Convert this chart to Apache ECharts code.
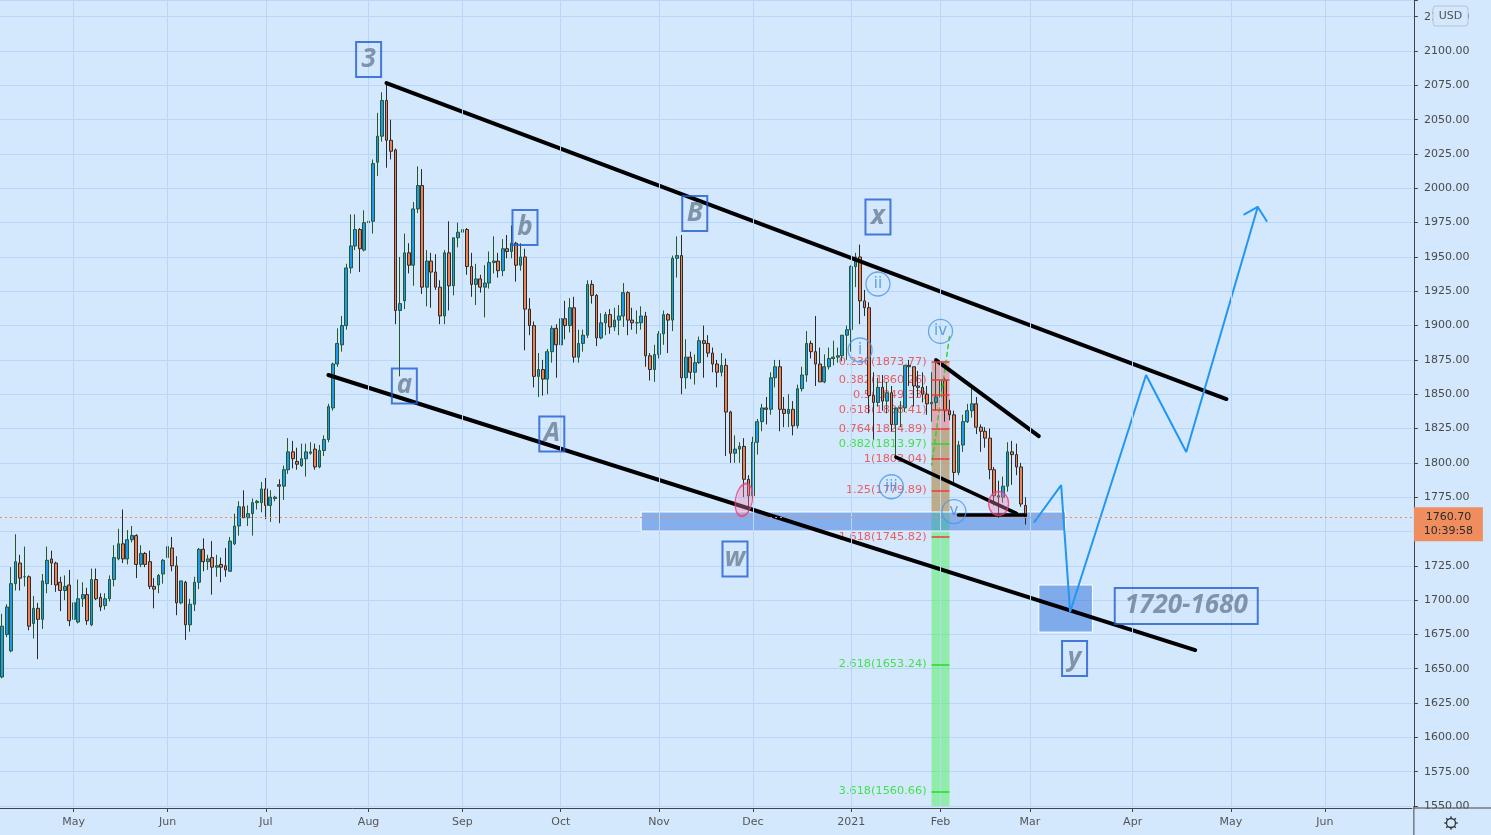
<!DOCTYPE html>
<html><head><meta charset="utf-8">
<script src="https://cdn.jsdelivr.net/npm/echarts@6/dist/echarts.min.js"></script>
<style>html,body{margin:0;padding:0;background:#d3e8fd;overflow:hidden}#c{width:1491px;height:835px}</style>
</head><body><div id="c"></div>
<script>
// ---------- calendar (trading-day categories) ----------
const firstCategory = '2020-04-09';
const lastCategory  = '2021-06-28';
const holidays = ['2020-12-25', '2021-01-01'];
const firstBarDate = '2020-04-09';
const monthNames = ['2021','Feb','Mar','Apr','May','Jun','Jul','Aug','Sep','Oct','Nov','Dec'];

// ---------- daily bars XAUUSD  [open, high, low, close] ----------
const bars = [
[1644,1690,1643,1681],[1675,1697,1673,1695],[1663,1724,1662,1712],[1712,1748,1707,1728],[1727,1733,1707,1716],
[1717,1739,1710,1717],[1717,1718,1678,1681],[1683,1703,1672,1694],[1694,1698,1657,1686],[1686,1719,1679,1714],
[1712,1739,1705,1729],[1730,1736,1711,1727],[1727,1728,1706,1711],[1713,1717,1692,1707],[1707,1718,1700,1710],
[1711,1722,1681,1685],
[1686,1706,1670,1698],[1684,1715,1683,1701],[1701,1713,1695,1704],[1704,1709,1682,1685],[1682,1723,1681,1715],
[1715,1723,1700,1701],[1702,1705,1692,1695],[1696,1705,1693,1701],[1701,1718,1699,1715],[1715,1740,1710,1731],
[1730,1752,1729,1741],[1741,1766,1727,1730],[1730,1751,1726,1744],[1744,1754,1742,1747],[1747,1748,1716,1726],
[1726,1740,1724,1734],[1734,1735,1724,1726],[1728,1736,1708,1710],[1710,1716,1694,1708],[1711,1719,1705,1718],
[1719,1730,1712,1729],
[1731,1745,1728,1739],[1738,1746,1721,1725],[1725,1732,1689,1698],[1698,1714,1697,1714],[1713,1714,1671,1682],
[1682,1701,1677,1697],[1697,1717,1692,1713],[1713,1738,1708,1737],[1737,1745,1721,1728],[1728,1733,1722,1730],
[1731,1743,1704,1724],[1724,1733,1717,1725],[1726,1731,1713,1724],[1725,1738,1717,1722],[1721,1746,1721,1743],
[1741,1763,1740,1754],[1754,1772,1747,1768],[1768,1780,1760,1760],[1760,1769,1754,1763],[1763,1774,1747,1771],
[1771,1773,1766,1772],[1771,1786,1764,1781],
[1781,1789,1759,1769],[1769,1780,1757,1775],[1774,1776,1772,1775],[1784,1788,1756,1783],[1783,1798,1773,1795],
[1795,1818,1792,1808],[1808,1816,1796,1803],[1801,1811,1795,1799],[1798,1814,1797,1803],[1803,1814,1790,1808],
[1807,1815,1806,1808],[1810,1814,1795,1797],[1797,1813,1796,1809],[1809,1820,1805,1817],[1817,1843,1815,1841],
[1840,1873,1838,1872],[1872,1898,1870,1887],[1886,1907,1881,1900],[1900,1945,1897,1942],[1942,1981,1938,1958],
[1958,1981,1955,1970],[1970,1971,1939,1956],[1955,1984,1954,1975],
[1975,1988,1967,1976],[1976,2021,1967,2018],[2019,2055,2009,2038],[2038,2070,2034,2064],[2064,2076,2015,2035],
[2035,2050,2021,2027],[2028,2029,1901,1911],[1911,1950,1863,1916],[1918,1967,1912,1953],[1953,1960,1938,1944],
[1944,1990,1929,1985],[1985,2016,1982,2002],[2002,2014,1923,1928],[1928,1955,1914,1947],[1947,1953,1913,1939],
[1939,1952,1926,1928],[1928,1933,1901,1907],[1907,1955,1901,1953],[1953,1976,1911,1929],[1929,1964,1922,1964],
[1964,1975,1957,1968],
[1968,1992,1960,1970],[1970,1971,1937,1943],[1943,1953,1921,1930],[1930,1945,1915,1934],[1934,1937,1924,1928],
[1928,1944,1906,1931],[1931,1954,1927,1946],[1946,1965,1938,1947],[1947,1953,1935,1940],[1940,1963,1936,1956],
[1956,1966,1949,1954],[1954,1973,1949,1960],[1960,1961,1932,1944],[1944,1960,1940,1950],[1950,1956,1882,1912],
[1912,1920,1893,1900],[1900,1903,1855,1863],[1863,1880,1848,1868],[1868,1875,1849,1861],[1861,1883,1850,1881],
[1881,1900,1873,1898],[1898,1901,1862,1886],
[1886,1917,1883,1905],[1905,1918,1890,1900],[1900,1920,1895,1913],[1913,1921,1873,1877],[1877,1897,1873,1887],
[1887,1897,1881,1893],[1893,1933,1891,1930],[1930,1933,1916,1922],[1922,1923,1885,1891],[1891,1909,1890,1902],
[1902,1910,1893,1908],[1908,1912,1894,1899],[1899,1913,1896,1904],[1904,1915,1893,1907],[1907,1931,1899,1924],
[1924,1925,1893,1904],[1904,1913,1897,1902],[1902,1911,1894,1902],[1902,1914,1897,1907],[1907,1910,1870,1878],
[1878,1880,1860,1868],[1868,1886,1859,1879],
[1879,1896,1876,1894],[1894,1911,1886,1908],[1908,1909,1880,1904],[1904,1951,1896,1949],[1949,1965,1935,1951],
[1951,1966,1850,1862],[1862,1890,1854,1877],[1877,1881,1861,1866],[1866,1879,1857,1873],[1873,1892,1872,1889],
[1889,1900,1862,1887],[1887,1893,1877,1880],[1880,1884,1866,1872],[1872,1875,1855,1866],[1866,1880,1863,1871],
[1871,1876,1805,1837],[1837,1838,1800,1807],[1807,1820,1800,1810],[1810,1815,1800,1812],[1812,1818,1775,1788],
[1788,1791,1764,1776],
[1776,1819,1774,1815],[1815,1832,1806,1830],[1830,1843,1823,1840],[1840,1848,1828,1839],[1839,1866,1835,1862],
[1862,1875,1855,1870],[1870,1875,1823,1839],[1839,1848,1826,1836],[1836,1850,1826,1839],[1839,1845,1820,1827],
[1827,1857,1825,1854],[1854,1870,1852,1864],[1864,1896,1859,1887],[1887,1889,1876,1881],[1881,1907,1856,1872],
[1872,1884,1859,1859],[1859,1879,1858,1870],[1870,1884,1868,1876],[1876,1889,1871,1877],[1877,1884,1873,1878],
[1878,1893,1874,1893],[1893,1900,1875,1897],
[1897,1944,1881,1943],[1943,1953,1928,1950],[1950,1959,1901,1918],[1918,1926,1907,1913],[1913,1917,1836,1849],
[1849,1866,1817,1844],[1844,1862,1841,1855],[1855,1864,1838,1845],[1845,1859,1836,1851],[1851,1856,1823,1828],
[1828,1839,1803,1840],[1840,1845,1826,1840],[1840,1871,1837,1871],[1871,1875,1856,1870],[1870,1870,1841,1856],
[1856,1867,1848,1855],[1855,1866,1844,1850],[1850,1856,1835,1843],[1843,1866,1830,1844],[1844,1875,1838,1848],
[1848,1875,1848,1860],[1860,1862,1830,1838],[1838,1846,1831,1835],[1835,1838,1785,1793],[1793,1816,1791,1813],
[1813,1835,1808,1830],[1830,1843,1829,1838],[1838,1855,1833,1843],[1843,1848,1821,1826],[1826,1828,1808,1823],
[1823,1826,1811,1818],[1818,1825,1788,1795],[1795,1797,1769,1776],[1776,1787,1760,1775],[1775,1790,1771,1783],
[1783,1815,1779,1808],[1808,1816,1784,1806],[1806,1814,1791,1797],[1797,1800,1768,1770],[1769,1775,1755,1760.7]
];
const lastPrice = 1760.7;
const countdown = '10:39:58';

// ---------- price axis ----------
const priceMin = 1550, priceMax = 2137.2, priceStep = 25;

// ---------- drawings (anchors in date / price) ----------
const channelTop    = [['2020-08-07', 2076.7], ['2021-04-30', 1846.5]];
const channelBottom = [['2020-07-21', 1864.0], ['2021-04-21', 1663.6]];
const wedgeTop      = [['2021-01-29', 1874.9], ['2021-03-03', 1819.5]];
const wedgeBottom   = [['2021-01-18', 1804.2], ['2021-02-24', 1763.2]];
const waveVLevel    = [['2021-02-05', 1762.0], ['2021-02-26', 1762.0]];
const projection    = [['2021-03-02',1756.9],['2021-03-10',1783.8],['2021-03-12',1691.3],['2021-04-06',1864.0],['2021-04-19',1807.9],['2021-05-11',1986.4]];
const arrowHead     = [['2021-05-06',1981.0],['2021-05-11',1986.4],['2021-05-13',1976.2]];
const fibTrend      = [['2021-02-03',1892.0],['2021-01-28',1798.4]];

const waveBoxes = [['3','2020-08-03',2093.8],['a','2020-08-13',1856.0],['b','2020-09-21',1971.4],['A','2020-09-29',1821.0],
                   ['B','2020-11-12',1981.6],['x','2021-01-12',1979.1],['w','2020-11-25',1729.9],['y','2021-03-15',1657.4]];
const targetLabel = ['1720-1680','2021-04-19',1695.7];
const waveCircles = [['ii','2021-01-12',1930.3],['i','2021-01-06',1882.2],['iv','2021-02-01',1895.8],['iii','2021-01-15',1782.6],['v','2021-02-04',1764.5]];
const ellipses = [['2020-11-27',1773.0],['2021-02-18',1770.4]];

const supportZone = ['2020-10-27','2021-03-11',1764.2,1750.3];
const targetZone  = ['2021-03-03','2021-03-19',1711.0,1676.7];
const fibSpan = ['2021-01-28','2021-02-03'];
const fibRedZone = [1873.77, 1764.2];
const fibGreenZone = [1824.89, 1550];
const fibLevels = [[0.236,1873.77],[0.382,1860.26],[0.5,1849.33],[0.618,1838.41],[0.764,1824.89],[0.882,1813.97],
                   [1,1803.04],[1.25,1779.89],[1.618,1745.82],[2.618,1653.24],[3.618,1560.66]];
const fibGreenRatios = [0.882, 2.618, 3.618];

// ---------- build categories ----------
function tradingDays(a, b, skip) {
  const out = []; let t = Date.parse(a + 'T00:00:00Z'); const end = Date.parse(b + 'T00:00:00Z');
  while (t <= end) { const d = new Date(t); const wd = d.getUTCDay(); const s = d.toISOString().slice(0,10);
    if (wd !== 0 && wd !== 6 && skip.indexOf(s) < 0) out.push(s); t += 86400000; }
  return out;
}
const cats = tradingDays(firstCategory, lastCategory, holidays);
const monthStart = cats.map((d, i) => i > 0 && d.slice(5,7) !== cats[i-1].slice(5,7));
const monthStartDates = cats.filter((d, i) => monthStart[i]);
const firstIdx = cats.indexOf(firstBarDate);
const candleData = cats.map((d, j) => { const i = j - firstIdx; if (i >= 0 && i < bars.length) { const b = bars[i]; return [b[0], b[3], b[2], b[1]]; } return '-'; });

// ---------- layout / style ----------
const BG = '#d3e8fd', GRIDC = '#b7d6f8';
const BAR = 4.468;
const GRID_W = cats.length * BAR;
const PLOT_H = 806;
const FONT = 'DejaVu Sans';
const ellipsePath = 'path://M0,50a50,50 0 1,0 100,0a50,50 0 1,0 -100,0';
const ellipseSizes = [[17,33],[20,24]];
const ellipseRot = [-10, 0];
const boxLabel = (w, h) => ({show:true, position:'inside', formatter:'{b}', color:'#6b7e93', fontSize:26, fontWeight:'bold',
  fontStyle:'italic', fontFamily:'Open Sans', width:w, height:h, lineHeight:h, align:'center', verticalAlign:'middle',
  borderColor:'#1f5bd1', borderWidth:2, padding:0});

function lineSeries(data, color, width, z, type) {
  return { type:'line', data, symbol:'none', silent:true, z, lineStyle:{color, width, type: type || 'solid', cap:'round'}, animation:false };
}

const chart = echarts.init(document.getElementById('c'), null, {width:1491, height:835});
chart.setOption({
  animation:false,
  backgroundColor: BG,
  grid: {left: 0, top: 0, width: GRID_W, height: PLOT_H},
  xAxis: {
    type:'category', data: cats, boundaryGap:true, offset:2,
    axisLine:{show:true, lineStyle:{color:'#444', width:1}},
    axisTick:{show:true, alignWithLabel:true, interval:(i)=>monthStart[i], length:4, lineStyle:{color:'#444'}},
    axisLabel:{interval:(i)=>monthStart[i], formatter:(v)=>monthNames[parseInt(v.slice(5,7),10)-1], color:'#555', fontSize:11, fontFamily:FONT, margin:9},
    splitLine:{show:false}
  },
  yAxis: {
    type:'value', position:'right', min:priceMin, max:priceMax, interval:priceStep, offset:2,
    axisLine:{show:true, lineStyle:{color:'#444', width:1}},
    axisTick:{show:true, length:4, lineStyle:{color:'#444'}},
    axisLabel:{color:'#4a4a4a', fontSize:11, fontFamily:FONT, margin:10,
      formatter:(v)=> Math.abs(v/priceStep - Math.round(v/priceStep)) < 1e-6 ? v.toFixed(2) : ''},
    splitLine:{show:true, lineStyle:{color:GRIDC, width:1}}
  },
  series: [
    { type:'line', data:[], silent:true, z:0,
      markLine:{silent:true, symbol:['none','none'], label:{show:false}, lineStyle:{color:GRIDC, width:1, type:'solid'},
        data: monthStartDates.map(d => ({xAxis:d}))} },
    { type:'line', data:[], silent:true, z:1,
      markArea:{silent:true, label:{show:false}, data:[
        [{xAxis:fibSpan[0], yAxis:fibGreenZone[0], itemStyle:{color:'rgba(90,240,100,0.55)'}}, {xAxis:fibSpan[1], yAxis:fibGreenZone[1]}],
        [{xAxis:fibSpan[0], yAxis:fibRedZone[0], itemStyle:{color:'rgba(235,105,110,0.5)'}}, {xAxis:fibSpan[1], yAxis:fibRedZone[1]}],
        [{xAxis:supportZone[0], yAxis:supportZone[2], itemStyle:{color:'rgba(60,120,220,0.52)', borderColor:'#ffffff', borderWidth:1}}, {xAxis:supportZone[1], yAxis:supportZone[3]}],
        [{xAxis:targetZone[0], yAxis:targetZone[2], itemStyle:{color:'rgba(60,120,220,0.55)', borderColor:'#ffffff', borderWidth:1}}, {xAxis:targetZone[1], yAxis:targetZone[3]}]
      ]},
      markLine:{silent:true, symbol:['none','none'], label:{show:false},
        data: fibLevels.map(f => [{coord:[fibSpan[0], f[1]], lineStyle:{color: fibGreenRatios.indexOf(f[0])>=0 ? '#22dd22' : '#f03a3a', width:1.5, type:'solid'}}, {coord:[fibSpan[1], f[1]]}])} },
    { type:'scatter', silent:true, z:2, symbolSize:0,
      data: fibLevels.map(f => ({name: f[0] + '(' + f[1].toFixed(2) + ')', value:[fibSpan[0], f[1]],
        label:{color: fibGreenRatios.indexOf(f[0])>=0 ? '#22dd22' : '#f03a3a'}})),
      label:{show:true, position:'left', distance:5, formatter:'{b}', fontSize:11.3, fontFamily:FONT} },
    { type:'line', data:[], silent:true, z:2,
      markLine:{silent:true, symbol:['none','none'], label:{show:false}, lineStyle:{color:'#f08d5f', width:1, type:[2,3]},
        data:[{yAxis:lastPrice}]} },
    { type:'candlestick', data: candleData, barWidth:3.2, silent:true, z:3,
      itemStyle:{color:'#2196f3', color0:'#f08050', borderColor:'#24592b', borderColor0:'#2b2b2b', borderWidth:1} },
    lineSeries(fibTrend, '#35d035', 1.5, 4, [4,4]),
    lineSeries(channelTop, '#000', 4, 4),
    lineSeries(channelBottom, '#000', 4, 4),
    lineSeries(wedgeTop, '#000', 4, 4),
    lineSeries(wedgeBottom, '#000', 3.5, 4),
    lineSeries(waveVLevel, '#000', 3.5, 4),
    lineSeries(projection, '#2196f3', 2, 4),
    lineSeries(arrowHead, '#2196f3', 2, 4),
    { type:'scatter', silent:true, z:4, symbol: ellipsePath, symbolKeepAspect:false,
      data: ellipses.map((e, i) => ({value:[e[0], e[1]], symbolSize: ellipseSizes[i], symbolRotate: ellipseRot[i]})),
      itemStyle:{color:'rgba(240,130,180,0.45)', borderColor:'#e8407a', borderWidth:1.5} },
    { type:'scatter', silent:true, z:5, symbol:'circle', symbolSize:24,
      data: waveCircles.map(c => ({name:c[0], value:[c[1], c[2]]})),
      itemStyle:{color:'rgba(255,255,255,0.05)', borderColor:'#4b96e3', borderWidth:1.3},
      label:{show:true, position:'inside', formatter:'{b}', color:'#3b8ee0', fontSize:15, fontFamily:FONT} },
    { type:'scatter', silent:true, z:5, symbolSize:0,
      data: waveBoxes.map(b => ({name:b[0], value:[b[1], b[2]]})),
      label: boxLabel(25, 35) },
    { type:'scatter', silent:true, z:5, symbolSize:0,
      data: [{name:targetLabel[0], value:[targetLabel[1], targetLabel[2]]}],
      label: boxLabel(143, 36) }
  ]
});

// ---------- chrome: price tag, USD badge, frame extensions, gear ----------
const py = chart.convertToPixel({yAxisIndex:0}, lastPrice);
const axisX = chart.convertToPixel({xAxisIndex:0}, cats[cats.length-1]) + BAR/2 + 2;
const axisY = PLOT_H + 2;
const gear = [{type:'circle', shape:{cx:1451, cy:823, r:4.5}, style:{fill:'none', stroke:'#333', lineWidth:1.3}, z:101}];
for (let a = 0; a < 8; a++) {
  const ang = a * Math.PI / 4, c = Math.cos(ang), s = Math.sin(ang);
  gear.push({type:'line', shape:{x1:1451+c*4.5, y1:823+s*4.5, x2:1451+c*6.8, y2:823+s*6.8}, style:{stroke:'#333', lineWidth:1.3}, z:101});
}
chart.setOption({graphic:[
  {type:'rect', shape:{x:axisX+0.5, y:axisY+0.5, width:1491-axisX, height:835-axisY}, style:{fill:BG}, z:100},
  {type:'line', shape:{x1:axisX, y1:axisY, x2:1491, y2:axisY}, style:{stroke:'#444', lineWidth:1}, z:101},
  {type:'line', shape:{x1:axisX, y1:PLOT_H, x2:axisX, y2:835}, style:{stroke:'#444', lineWidth:1}, z:101},
  {type:'rect', shape:{x:axisX, y:py-9.5, width:69, height:34}, style:{fill:'#f08d5f'}, z:102},
  {type:'text', x:axisX+34.5, y:py+0.7, style:{text:lastPrice.toFixed(2), fill:'#2a2a2a', font:'11px "DejaVu Sans"', align:'center', verticalAlign:'middle'}, z:103},
  {type:'text', x:axisX+34.5, y:py+14.7, style:{text:countdown, fill:'#2a2a2a', font:'11px "DejaVu Sans"', align:'center', verticalAlign:'middle'}, z:103},
  {type:'rect', shape:{x:1433, y:6, width:35, height:20, r:3}, style:{fill:BG, stroke:'#b4c3d3', lineWidth:1}, z:102},
  {type:'text', x:1450.5, y:16.5, style:{text:'USD', fill:'#505050', font:'11px "DejaVu Sans"', align:'center', verticalAlign:'middle'}, z:103}
].concat(gear)});
</script>
</body></html>
